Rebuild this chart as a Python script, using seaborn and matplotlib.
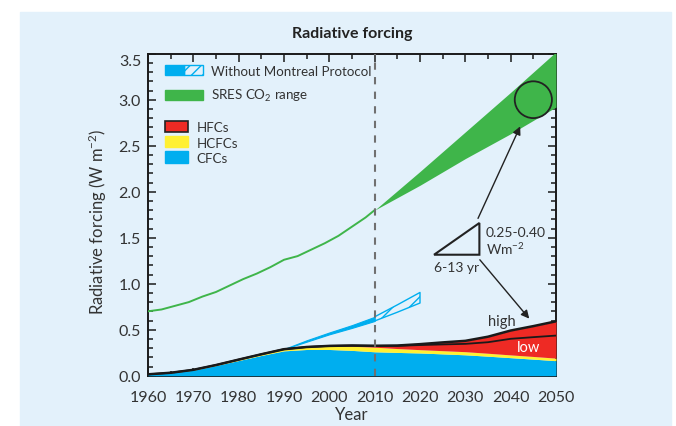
import numpy as np
import pandas as pd
import seaborn as sns
import matplotlib.pyplot as plt
from matplotlib.patches import Patch, Rectangle, Ellipse, Polygon
from matplotlib.legend_handler import HandlerTuple
from matplotlib.ticker import MultipleLocator

# --- data ---
years = np.arange(1960, 2051, 5)
cfc = [0.015, 0.03, 0.06, 0.11, 0.165, 0.22, 0.27, 0.285, 0.285, 0.275,
       0.26, 0.253, 0.247, 0.237, 0.227, 0.212, 0.196, 0.18, 0.163]
hcfc = [0.0, 0.002, 0.004, 0.006, 0.01, 0.013, 0.018, 0.025, 0.035, 0.045,
        0.05, 0.042, 0.036, 0.035, 0.034, 0.032, 0.03, 0.029, 0.028]
hfc_low = [0, 0, 0, 0, 0, 0, 0, 0.002, 0.004, 0.008,
           0.015, 0.03, 0.05, 0.068, 0.085, 0.12, 0.175, 0.21, 0.245]
hfc_high = [0, 0, 0, 0, 0, 0, 0, 0.002, 0.004, 0.008,
            0.015, 0.033, 0.06, 0.09, 0.118, 0.18, 0.265, 0.33, 0.40]

co2_years = [1960, 1963, 1966, 1969, 1972, 1975, 1978, 1981, 1984, 1987,
             1990, 1993, 1996, 1999, 2002, 2005, 2008, 2010]
co2_hist = [0.70, 0.72, 0.76, 0.80, 0.86, 0.91, 0.98, 1.05, 1.11, 1.18,
            1.26, 1.30, 1.37, 1.44, 1.52, 1.62, 1.72, 1.80]
sres_years = [2010, 2020, 2030, 2040, 2050]
sres_low = [1.80, 2.07, 2.36, 2.63, 2.92]
sres_high = [1.80, 2.22, 2.65, 3.08, 3.52]

wmp_years = [1990, 1995, 2000, 2005, 2010, 2015, 2020]
wmp_low = [0.29, 0.37, 0.45, 0.52, 0.595, 0.69, 0.79]
wmp_high = [0.29, 0.385, 0.47, 0.55, 0.64, 0.77, 0.905]

bg = "#e3f1fb"
c_blue = "#00aeef"
c_yellow = "#fff033"
c_red = "#ee2a24"
c_green = "#3fb54a"

sns.set_theme(style="ticks")
plt.rcParams["font.family"] = ["Lato", "DejaVu Sans"]
plt.rcParams["mathtext.default"] = "regular"
plt.rcParams["hatch.linewidth"] = 1.0

df = pd.DataFrame({"Year": years, "CFC": cfc, "HCFC": hcfc,
                   "low": hfc_low, "high": hfc_high})
df["base1"] = df["CFC"]
df["base2"] = df["CFC"] + df["HCFC"]
df["tot_low"] = df["base2"] + df["low"]
df["tot_high"] = df["base2"] + df["high"]

fig = plt.figure(figsize=(6.76, 4.27), dpi=100, facecolor="white")
fig.patches.append(Rectangle((20 / 676, 0), 651 / 676, 414 / 427,
                             transform=fig.transFigure, color=bg, zorder=-5))
ax = fig.add_axes([148 / 676, 1 - 376.7 / 427, 408 / 676, 322 / 427])
ax.set_facecolor(bg)

# without Montreal Protocol
wy = np.array(wmp_years)
m = wy <= 2010
ax.fill_between(wy[m], np.array(wmp_low)[m], np.array(wmp_high)[m],
                color=c_blue, lw=0.8, zorder=2)
m2 = wy >= 2010
ax.fill_between(wy[m2], np.array(wmp_low)[m2], np.array(wmp_high)[m2],
                facecolor="none", edgecolor=c_blue, hatch="//", lw=1.0, zorder=2)

# halocarbon stack
ax.fill_between(df["Year"], 0, df["base1"], color=c_blue, lw=0, zorder=3)
ax.fill_between(df["Year"], df["base1"], df["base2"], color=c_yellow, lw=0, zorder=3)
ax.fill_between(df["Year"], df["base2"], df["tot_high"], color=c_red, lw=0, zorder=3)
sns.lineplot(x="Year", y="tot_high", data=df, color="#1a1a1a", lw=1.8, ax=ax, zorder=4)
sns.lineplot(x="Year", y="tot_low", data=df, color="#1a1a1a", lw=1.3, ax=ax, zorder=4)

# CO2
sns.lineplot(x=co2_years, y=co2_hist, color=c_green, lw=1.4, ax=ax, zorder=3)
ax.fill_between(sres_years, sres_low, sres_high, color=c_green, lw=0, zorder=3)

ax.axvline(2010, color="#707070", lw=1.5, ls=(0, (3.5, 3.5)), zorder=5)

# annotations
ax.add_patch(Ellipse((2045, 3.0), 8.2, 0.40, fill=False, ec="#222222", lw=1.3, zorder=6))
ax.add_patch(Polygon([(2023.1, 1.315), (2033.1, 1.315), (2033.1, 1.66)], closed=True,
                     fill=False, ec="#222222", lw=1.5, zorder=6))
ax.text(2034.5, 1.565, "0.25-0.40", fontsize=10, color="#333333", va="center", ha="left")
ax.text(2034.5, 1.385, "Wm$^{-2}$", fontsize=10, color="#333333", va="center", ha="left")
ax.text(2028.1, 1.18, "6-13 yr", fontsize=10, color="#333333", va="center", ha="center")
ax.annotate("", xy=(2042.1, 2.71), xytext=(2032.8, 1.71),
            arrowprops=dict(arrowstyle="-|>", color="#222222", lw=1.0,
                            mutation_scale=12, shrinkA=0, shrinkB=0), zorder=6)
ax.annotate("", xy=(2044.1, 0.62), xytext=(2033.2, 1.26),
            arrowprops=dict(arrowstyle="-|>", color="#222222", lw=1.0,
                            mutation_scale=12, shrinkA=0, shrinkB=0), zorder=6)
ax.text(2038.0, 0.59, "high", fontsize=10.5, color="#333333", ha="center", va="center")
ax.text(2043.9, 0.31, "low", fontsize=10.5, color="white", ha="center", va="center", zorder=6)

# axes
ax.set_xlim(1960, 2050)
ax.set_ylim(0, 3.5)
ax.set_xticks(range(1960, 2051, 10))
ax.xaxis.set_minor_locator(MultipleLocator(5))
ax.set_yticks(np.arange(0, 3.51, 0.5))
ax.set_yticklabels([f"{v:.1f}" for v in np.arange(0, 3.51, 0.5)])
ax.yaxis.set_minor_locator(MultipleLocator(0.1))
ax.tick_params(which="both", direction="in", top=True, right=True,
               colors="#1a1a1a", labelcolor="#333333", labelsize=11.5, width=1.1)
ax.tick_params(axis="x", which="major", pad=10)
ax.tick_params(axis="y", which="major", pad=5)
ax.tick_params(which="major", length=6)
ax.tick_params(which="minor", length=3.5)
ax.get_yticklabels()[-1].set_va("top")
for s in ax.spines.values():
    s.set_linewidth(1.4)
    s.set_color("#1a1a1a")
ax.set_xlabel("Year", fontsize=12, color="#333333")
ax.xaxis.set_label_coords(0.5, -0.095)
ax.set_ylabel("Radiative forcing (W m$^{-2}$)", fontsize=12, color="#333333")
ax.yaxis.set_label_coords(-0.095, 0.48)
ax.set_title("Radiative forcing", fontsize=11.5, fontweight="bold", color="#222222", pad=12)

# legends
h1 = [(Patch(fc=c_blue, ec=c_blue), Patch(fc="none", ec=c_blue, hatch="///")),
      Patch(fc=c_green, ec=c_green)]
leg1 = ax.legend(h1, ["Without Montreal Protocol", "SRES CO$_2$ range"],
                 handler_map={tuple: HandlerTuple(ndivide=None, pad=0)},
                 loc="upper left", bbox_to_anchor=(0.042, 0.965), frameon=False,
                 fontsize=9.6, handlelength=2.85, handleheight=0.75, handletextpad=0.6,
                 labelspacing=0.78, borderpad=0, borderaxespad=0, labelcolor="#333333")
ax.add_artist(leg1)
h2 = [Patch(fc=c_red, ec="#222222", lw=1.2), Patch(fc=c_yellow, ec=c_yellow),
      Patch(fc=c_blue, ec=c_blue)]
ax.legend(h2, ["HFCs", "HCFCs", "CFCs"], loc="upper left",
          bbox_to_anchor=(0.042, 0.79), frameon=False, fontsize=9.6,
          handlelength=1.75, handleheight=0.9, handletextpad=0.6,
          labelspacing=0.22, borderpad=0, borderaxespad=0, labelcolor="#333333")

fig.savefig("out.png", dpi=100, facecolor=fig.get_facecolor())
